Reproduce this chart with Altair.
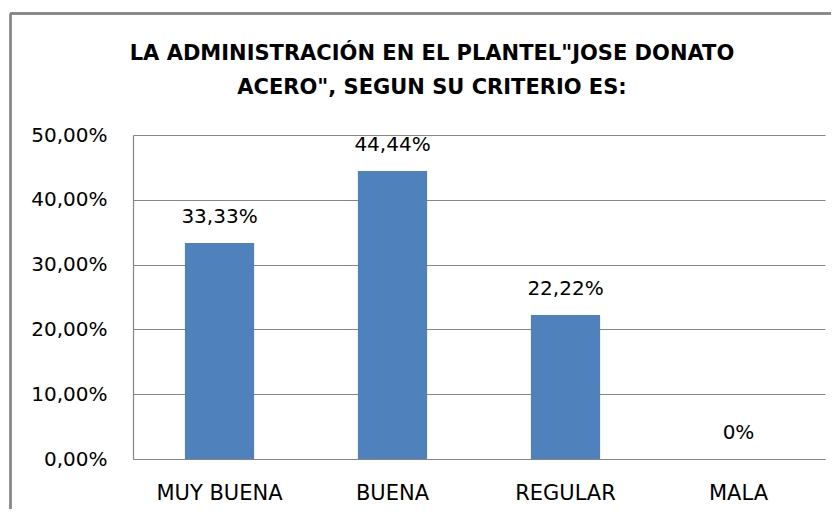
import altair as alt
import pandas as pd

categories = ["MUY BUENA", "BUENA", "REGULAR", "MALA"]
values = [33.33, 44.44, 22.22, 0.0]
value_labels = ["33,33%", "44,44%", "22,22%", "0%"]
y_ticks = [0, 10, 20, 30, 40, 50]
title_lines = ['LA ADMINISTRACIÓN EN EL PLANTEL"JOSE DONATO', 'ACERO", SEGUN SU CRITERIO ES:']

df = pd.DataFrame({"cat": categories, "val": values, "lab": value_labels})

FONT = "DejaVu Sans"
W, H = 692, 324

x_enc = alt.X("cat:N", sort=categories, title=None,
              scale=alt.Scale(paddingInner=0.6, paddingOuter=0.3),
              axis=alt.Axis(labelAngle=0, labelFont=FONT, labelFontSize=21, labelColor="#000000",
                            labelPadding=34, labelBaseline="middle", ticks=False,
                            domainColor="#868686", domainWidth=1.2, grid=False))
y_enc = alt.Y("val:Q", title=None,
              scale=alt.Scale(domain=[0, 50], nice=False),
              axis=alt.Axis(values=y_ticks, labelExpr="replace(format(datum.value, '.2f'), '.', ',') + '%'",
                            labelFont=FONT, labelFontSize=20, labelColor="#000000",
                            labelPadding=26, ticks=False, domainColor="#868686", domainWidth=1.2,
                            gridColor="#868686", gridWidth=1.2))

bars = alt.Chart(df).mark_bar(color="#4F81BD").encode(x=x_enc, y=y_enc)
texts = alt.Chart(df).mark_text(font=FONT, fontSize=20, color="#000000", dy=-20, baseline="alphabetic").encode(
    x=alt.X("cat:N", sort=categories), y="val:Q", text="lab:N")

border_left = alt.Chart(df).mark_rule(color="#868686", strokeWidth=1.8).encode(
    x=alt.value(-122.5), y=alt.value(-121.5), y2=alt.value(H + 60))
border_top = alt.Chart(df).mark_rule(color="#868686", strokeWidth=1.8).encode(
    x=alt.value(-122.5), x2=alt.value(W + 20), y=alt.value(-121.5))

chart = alt.layer(border_left, border_top, bars, texts).properties(
    width=W, height=H,
    title=alt.Title(title_lines, font=FONT, fontSize=21, fontWeight="bold", color="#000000",
                    lineHeight=34, anchor="middle", dx=-47, baseline="alphabetic", offset=0, dy=102),
    padding={"left": 125, "top": 127, "right": 6, "bottom": 50},
    autosize=alt.AutoSizeParams(type="none"),
).configure_view(stroke=None)

chart.save("out.html", embed_options={"renderer": "svg", "actions": False})
